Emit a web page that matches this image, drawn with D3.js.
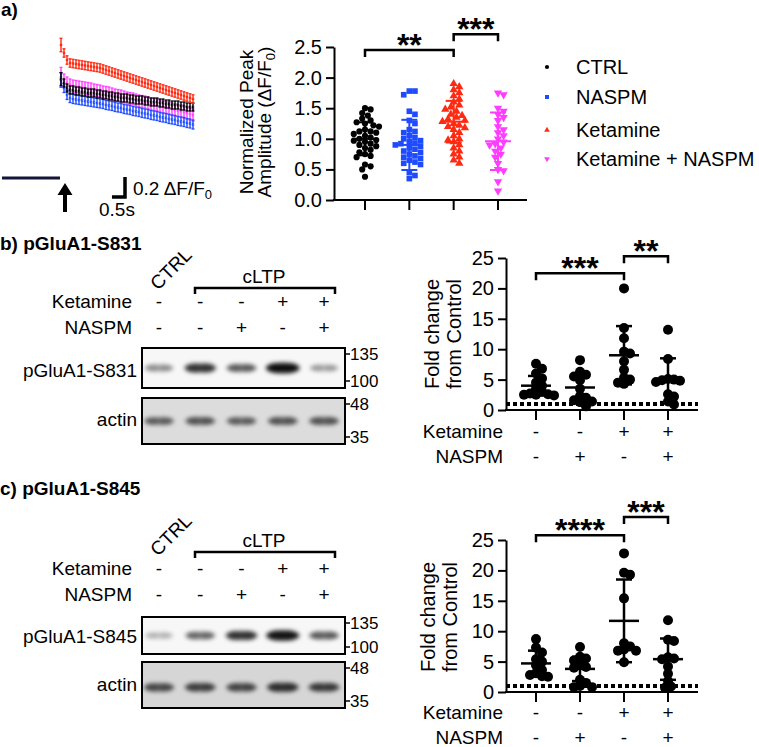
<!DOCTYPE html>
<html><head><meta charset="utf-8">
<script src="https://cdn.jsdelivr.net/npm/d3@7"></script>
<style>body{margin:0;background:#fff}</style>
</head><body><svg id="c" width="759" height="747"></svg>
<script>
// ================= DATA =================
// Panel a: Ca2+ traces (mean dF/F0 per frame), SEM per series
const frameInterval = 0.115; // s
const redTrace = [1.33,1.25,1.18,1.15,1.145,1.14,1.135,1.13,1.125,1.12,1.115,1.11,1.105,1.10,1.09,1.08,1.07,1.06,1.05,1.04,1.03,1.02,1.01,1.00,0.99,0.98,0.97,0.96,0.95,0.94,0.93,0.92,0.91,0.90,0.89,0.88,0.87,0.86,0.85,0.84,0.83,0.82,0.81,0.80,0.79];
const blackTrace = [0.99,0.95,0.90,0.88,0.88,0.87,0.87,0.86,0.86,0.85,0.85,0.85,0.84,0.84,0.83,0.83,0.82,0.82,0.81,0.81,0.80,0.80,0.80,0.79,0.79,0.78,0.78,0.78,0.77,0.77,0.76,0.76,0.76,0.75,0.75,0.74,0.74,0.73,0.73,0.73,0.72,0.72,0.71,0.71,0.71];
const magentaTrace = [1.01,0.98,0.95,0.93,0.92,0.915,0.91,0.905,0.90,0.895,0.89,0.88,0.875,0.87,0.86,0.855,0.85,0.84,0.83,0.825,0.82,0.81,0.80,0.795,0.79,0.78,0.77,0.765,0.76,0.75,0.74,0.735,0.73,0.72,0.71,0.705,0.70,0.69,0.68,0.675,0.67,0.66,0.65,0.64,0.63];
const blueTrace = [0.98,0.90,0.83,0.80,0.79,0.785,0.78,0.775,0.77,0.765,0.76,0.755,0.75,0.745,0.74,0.73,0.725,0.72,0.71,0.705,0.70,0.69,0.685,0.68,0.67,0.665,0.66,0.65,0.645,0.64,0.63,0.625,0.62,0.61,0.605,0.60,0.59,0.585,0.58,0.57,0.565,0.56,0.55,0.545,0.535];
const traceSEM = [0.042, 0.04, 0.06, 0.045]; // red, black, magenta, blue

// Panel a: normalized peak amplitude
const groupsA = ["CTRL","NASPM","Ketamine","Ketamine + NASPM"];
const ctrlAmp = [1.50,1.48,1.42,1.38,1.33,1.30,1.27,1.25,1.22,1.20,1.15,1.12,1.12,1.10,1.08,1.05,1.02,1.0,0.98,0.97,0.95,0.92,0.90,0.88,0.85,0.82,0.78,0.75,0.72,0.70,0.58,0.55,0.50,0.38];
const naspmAmp = [1.78,1.78,1.72,1.45,1.40,1.30,1.25,1.15,1.12,1.10,1.05,1.02,1.0,0.97,0.95,0.93,0.92,0.90,0.88,0.85,0.83,0.80,0.78,0.75,0.72,0.70,0.68,0.65,0.62,0.60,0.58,0.45,0.40,0.35];
const ketAmp = [1.90,1.85,1.80,1.75,1.70,1.65,1.60,1.55,1.52,1.48,1.45,1.40,1.38,1.35,1.32,1.30,1.28,1.25,1.22,1.20,1.18,1.15,1.10,1.05,1.0,0.98,0.95,0.90,0.85,0.80,0.75,0.70,0.65,0.60];
const ketNaspmAmp = [1.75,1.72,1.50,1.45,1.40,1.35,1.30,1.20,1.15,1.10,1.05,1.0,0.95,0.92,0.90,0.85,0.80,0.75,0.70,0.60,0.50,0.48,0.30,0.15];
const meanA = [1.0, 0.9, 1.28, 0.96];
const sdA = [0.27, 0.41, 0.34, 0.47];
const ticksA = [0,0.5,1.0,1.5,2.0,2.5];
const sigA = [{from:0,to:2,level:2.45,label:"**"},{from:2,to:3,level:2.71,label:"***"}];

// Panels b/c: blots
const laneKetamine = ["-","-","-","+","+"];
const laneNaspm = ["-","-","+","-","+"];
const s831Bands = [0.35,0.75,0.55,1.0,0.3];
const s831Actin = [0.5,0.55,0.5,0.55,0.55];
const s845Bands = [0.22,0.5,0.75,0.95,0.55];
const s845Actin = [0.6,0.65,0.62,0.75,0.68];
const mwTop = ["135","100"];
const mwActin = ["48","35"];

// Panels b/c: fold change from control
const foldKetamine = ["-","-","+","+"];
const foldNaspm = ["-","+","-","+"];
const s831Ctrl = [7.6,6.8,6.0,5.2,4.5,4.0,3.5,3.0,2.7,2.5,2.4,2.5,2.6];
const s831Naspm = [8.2,6.3,5.8,5.5,4.9,3.5,2.3,2.0,1.6,1.4,1.3,0.6];
const s831Ket = [20.0,13.5,11.8,9.6,9.3,8.0,6.6,5.3,5.0,4.5,4.3];
const s831KetNaspm = [13.2,8.4,5.1,5.0,4.9,4.8,4.6,2.6,2.2,1.4,0.9];
const s831Mean = [4.0,3.7,9.0,4.9];
const s831SD = [1.6,2.3,4.8,3.6];
const s845Ctrl = [8.7,7.3,6.5,5.4,5.0,4.4,3.6,3.1,2.8,2.6,2.5];
const s845Naspm = [7.4,5.8,5.5,5.2,4.8,4.1,4.0,2.0,1.5,1.0,0.8,0.8];
const s845Ket = [22.8,19.6,19.3,15.4,8.0,7.5,7.0,6.8,6.8,4.9];
const s845KetNaspm = [11.8,8.6,8.4,5.7,5.5,5.4,4.2,3.0,1.8,0.9,0.7];
const s845Mean = [4.7,3.8,11.7,5.4];
const s845SD = [2.1,2.0,6.8,3.4];
const ticksFold = [0,5,10,15,20,25];
const sigB = [{from:0,to:2,level:22.5,label:"***"},{from:2,to:3,level:25.3,label:"**"}];
const sigC = [{from:0,to:2,level:25.8,label:"****"},{from:2,to:3,level:28.8,label:"***"}];

// ================= DRAW =================
const F = '"Liberation Sans", Arial, Helvetica, sans-serif';
const svg = d3.select("#c").attr("font-family", F);
const colRed = "#ff2a12", colBlue = "#1f4bff", colMag = "#ff3cff";
const defs = svg.append("defs");
defs.append("filter").attr("id","blur").attr("x","-50%").attr("y","-100%").attr("width","200%").attr("height","300%")
  .append("feGaussianBlur").attr("stdDeviation", 2.2);

function txt(g, x, y, s, size, opts={}) {
  const t = g.append("text").attr("x", x).attr("y", y).attr("font-size", size).attr("fill","#000").text(s);
  if (opts.anchor) t.attr("text-anchor", opts.anchor);
  if (opts.bold) t.attr("font-weight", "bold");
  return t;
}

// ---------- Panel a: traces ----------
const gT = svg.append("g");
txt(gT, 1, 16, "a)", 19, {bold:true});
const tX = d3.scaleLinear().domain([0, (redTrace.length-1)*frameInterval]).range([61,193]);
const tY = d3.scaleLinear().domain([0,1]).range([178,78]);
const traceSeries = [
  {vals: magentaTrace, sem: traceSEM[2], color: colMag, dots:true},
  {vals: blueTrace, sem: traceSEM[3], color: colBlue, dots:true},
  {vals: blackTrace, sem: traceSEM[1], color: "#000", dots:true},
  {vals: redTrace, sem: traceSEM[0], color: colRed, dots:false}
];
traceSeries.forEach(s => {
  const g = gT.append("g");
  s.vals.forEach((v,i) => {
    const sem = i===0 ? s.sem*1.6 : s.sem;
    const x = tX(i*frameInterval), y1 = tY(v+sem), y2 = tY(v-sem);
    g.append("line").attr("x1",x).attr("x2",x).attr("y1",y1).attr("y2",y2).attr("stroke",s.color).attr("stroke-width",1.4);
    g.append("line").attr("x1",x-1.5).attr("x2",x+1.5).attr("y1",y1).attr("y2",y1).attr("stroke",s.color).attr("stroke-width",1.3);
    g.append("line").attr("x1",x-1.5).attr("x2",x+1.5).attr("y1",y2).attr("y2",y2).attr("stroke",s.color).attr("stroke-width",1.3);
    g.append("rect").attr("x",x-1.2).attr("y",tY(v)-1.2).attr("width",2.4).attr("height",2.4).attr("fill",s.color);
    if (s.dots) g.append("rect").attr("x",x+0.7).attr("y",tY(v)-0.6).attr("width",1.1).attr("height",1.2).attr("fill","#fff").attr("opacity",0.8);
  });
});
// baseline bar and stimulus arrow
gT.append("line").attr("x1",2).attr("x2",tX(0)-1).attr("y1",tY(0)).attr("y2",tY(0)).attr("stroke","#15153a").attr("stroke-width",3);
gT.append("path").attr("d","M65,183 L72.5,195 L67,195 L67,212 L63,212 L63,195 L57.5,195 Z").attr("fill","#000");
// scale bars
const sbX = 125, sbY = 197;
gT.append("path").attr("d",`M${sbX - (tX(0.5)-tX(0))},${sbY} H${sbX} V${sbY - (tY(0)-tY(0.2))}`)
  .attr("fill","none").attr("stroke","#000").attr("stroke-width",3.5);
const sbt = txt(gT, 133, 195, "0.2 ΔF/F", 19);
sbt.append("tspan").attr("font-size",13).attr("dy",4).text("0");
txt(gT, 99, 216, "0.5s", 19);

// ---------- generic helpers ----------
function swarm(vals, yS, minDist, step) {
  const idx = vals.map((v,i)=>i).sort((a,b)=>vals[b]-vals[a]);
  const placed = [], off = new Array(vals.length);
  idx.forEach(i => {
    const py = yS(vals[i]);
    for (let k=0; k<80; k++) {
      const dx = k===0 ? 0 : (k%2 ? 1 : -1)*Math.ceil(k/2)*step;
      if (placed.every(p => (p.x-dx)**2 + (p.y-py)**2 >= minDist*minDist) || k===79) {
        off[i] = dx; placed.push({x:dx, y:py}); break;
      }
    }
  });
  return off;
}
function styleAxis(a, fs) {
  a.selectAll("path,line").attr("stroke","#000").attr("stroke-width",2);
  a.selectAll("text").attr("font-size",fs).attr("font-family",F).attr("fill","#000");
}
function catAxes(g, x, y, xLeft, xRight, ticks, fmt) {
  const ya = g.append("g").attr("transform",`translate(${xLeft},0)`)
    .call(d3.axisLeft(y).tickValues(ticks).tickFormat(fmt).tickSize(8).tickSizeOuter(0).tickPadding(4));
  styleAxis(ya, 20);
  const y0 = y(0);
  g.append("line").attr("x1",xLeft-1).attr("x2",xRight).attr("y1",y0).attr("y2",y0).attr("stroke","#000").attr("stroke-width",2);
  x.domain().forEach(d => {
    g.append("line").attr("x1",x(d)).attr("x2",x(d)).attr("y1",y0).attr("y2",y0+10).attr("stroke","#000").attr("stroke-width",2);
  });
}
function brackets(g, x, y, sig, cats) {
  sig.forEach(s => {
    const x1 = x(cats[s.from]), x2 = x(cats[s.to]), yy = y(s.level);
    g.append("path").attr("d",`M${x1},${yy+7} V${yy} H${x2} V${yy+7}`).attr("fill","none").attr("stroke","#000").attr("stroke-width",2.5);
    txt(g, (x1+x2)/2, yy+6, s.label, 32, {anchor:"middle", bold:true});
  });
}
function meanSD(g, cx, m, sd, y, halfM, halfC, color, w) {
  g.append("line").attr("x1",cx).attr("x2",cx).attr("y1",y(m+sd)).attr("y2",y(Math.max(0,m-sd))).attr("stroke",color).attr("stroke-width",w);
  g.append("line").attr("x1",cx-halfM).attr("x2",cx+halfM).attr("y1",y(m)).attr("y2",y(m)).attr("stroke",color).attr("stroke-width",w);
  [m+sd, m-sd].forEach(v => g.append("line").attr("x1",cx-halfC).attr("x2",cx+halfC).attr("y1",y(v)).attr("y2",y(v)).attr("stroke",color).attr("stroke-width",w));
}
function rotLabel(g, cy, lines, fs) {
  lines.forEach(l => {
    const t = g.append("text").attr("transform",`translate(${l.x},${cy}) rotate(-90)`).attr("text-anchor","middle").attr("font-size",fs).attr("fill","#000");
    l.parts.forEach(p => {
      const ts = t.append("tspan").text(p.t);
      if (p.sub) ts.attr("font-size",13).attr("dy",4);
      if (p.back) ts.attr("dy",-4);
    });
  });
}

// ---------- Panel a: scatter ----------
const gA = svg.append("g");
const xA = d3.scalePoint().domain(groupsA).range([365,498]);
const yA = d3.scaleLinear().domain([0,2.5]).range([200,47]);
const ampSets = [ctrlAmp, naspmAmp, ketAmp, ketNaspmAmp];
const colorsA = ["#000", colBlue, colRed, colMag];
const symA = [
  {type:d3.symbolCircle, size:30, rot:0},
  {type:d3.symbolSquare, size:32, rot:0},
  {type:d3.symbolTriangle, size:30, rot:0},
  {type:d3.symbolTriangle, size:30, rot:180}
];
ampSets.forEach((vals, gi) => {
  const cx = xA(groupsA[gi]);
  const off = swarm(vals, yA, 5.5, 2.8);
  const path = d3.symbol().type(symA[gi].type).size(symA[gi].size)();
  vals.forEach((v,i) => {
    gA.append("path").attr("d",path).attr("fill",colorsA[gi])
      .attr("transform",`translate(${cx+off[i]},${yA(v)}) rotate(${symA[gi].rot})`);
  });
  meanSD(gA, cx, meanA[gi], sdA[gi], yA, 13, 8, colorsA[gi], 2);
});
catAxes(gA, xA, yA, 334, 527, ticksA, d3.format(".1f"));
brackets(gA, xA, yA, sigA, groupsA);
rotLabel(gA, 122, [
  {x:253, parts:[{t:"Normalized Peak"}]},
  {x:271, parts:[{t:"Amplitude (ΔF/F"},{t:"0",sub:true},{t:")",back:true}]}
], 19);
// legend
const legY = [67, 97, 130, 159];
groupsA.forEach((name, gi) => {
  const sz = gi===1 ? 16 : 14;
  const p = d3.symbol().type(symA[gi].type).size(sz)();
  gA.append("path").attr("d",p).attr("fill",colorsA[gi]).attr("transform",`translate(547,${legY[gi]}) rotate(${symA[gi].rot})`);
  txt(gA, 576, legY[gi]+7, name, 20);
});

// ---------- Blots ----------
const laneX = d3.scalePoint().domain(d3.range(5)).range([159,324]);
function blotPanel(cfg) {
  const g = svg.append("g");
  txt(g, 0, cfg.titleY, cfg.title, 19, {bold:true});
  g.append("text").attr("transform",`translate(158,${cfg.ctrlY}) rotate(-45)`).attr("font-size",19).text("CTRL");
  txt(g, 264, cfg.cltpY, "cLTP", 19, {anchor:"middle"});
  g.append("path").attr("d",`M195,${cfg.cltpY+11} V${cfg.cltpY+5} H335 V${cfg.cltpY+11}`).attr("fill","none").attr("stroke","#000").attr("stroke-width",2.5);
  txt(g, 132, cfg.ketY, "Ketamine", 19, {anchor:"end"});
  txt(g, 132, cfg.ketY+26, "NASPM", 19, {anchor:"end"});
  laneKetamine.forEach((s,i) => txt(g, laneX(i), cfg.ketY, s, 19, {anchor:"middle"}));
  laneNaspm.forEach((s,i) => txt(g, laneX(i), cfg.ketY+26, s, 19, {anchor:"middle"}));
  cfg.boxes.forEach((b, bi) => {
    const id = `clip${cfg.id}${bi}`;
    defs.append("clipPath").attr("id", id).append("rect").attr("x",142).attr("y",b.y0).attr("width",203).attr("height",b.y1-b.y0);
    g.append("rect").attr("x",142).attr("y",b.y0).attr("width",203).attr("height",b.y1-b.y0).attr("fill",b.bg);
    const bg = g.append("g").attr("clip-path",`url(#${id})`);
    const by = b.y0 + (b.y1-b.y0)*b.bandPos;
    b.bands.forEach((v,i) => {
      const cx = laneX(i);
      const bb = bg.append("g").attr("filter","url(#blur)");
      bb.append("ellipse").attr("cx",cx).attr("cy",by).attr("rx",13+4*v).attr("ry",2.6+3*v).attr("fill","#000").attr("opacity",Math.min(1,v*0.85));
      [-7,7].forEach(dx => bb.append("ellipse").attr("cx",cx+dx).attr("cy",by).attr("rx",6+2*v).attr("ry",2.5+2.6*v).attr("fill","#000").attr("opacity",Math.min(1,v*0.6)));
    });
    g.append("rect").attr("x",142).attr("y",b.y0).attr("width",203).attr("height",b.y1-b.y0).attr("fill","none").attr("stroke","#000").attr("stroke-width",2);
    txt(g, 137, b.labelY, b.label, 19, {anchor:"end"});
    [b.y0 + 6, b.y1 - 7].forEach((yy, k) => {
      g.append("line").attr("x1",344).attr("x2",350).attr("y1",yy).attr("y2",yy).attr("stroke","#000").attr("stroke-width",1.5);
      txt(g, 350, yy+6, b.mw[k], 17);
    });
  });
}
blotPanel({id:"b", title:"b) pGluA1-S831", titleY:250, ctrlY:291, cltpY:283, ketY:308,
  boxes:[
    {y0:348, y1:388, bg:"#f7f7f7", bands:s831Bands, bandPos:0.5, label:"pGluA1-S831", labelY:377, mw:mwTop},
    {y0:398, y1:444, bg:"#dcdcdc", bands:s831Actin, bandPos:0.5, label:"actin", labelY:426, mw:mwActin}
  ]});
blotPanel({id:"c", title:"c) pGluA1-S845", titleY:495, ctrlY:557, cltpY:547, ketY:575,
  boxes:[
    {y0:617, y1:654, bg:"#f7f7f7", bands:s845Bands, bandPos:0.5, label:"pGluA1-S845", labelY:643, mw:mwTop},
    {y0:662, y1:708, bg:"#d6d6d6", bands:s845Actin, bandPos:0.55, label:"actin", labelY:691, mw:mwActin}
  ]});

// ---------- Fold change panels ----------
const foldCats = ["g1","g2","g3","g4"];
function foldPanel(cfg) {
  const g = svg.append("g");
  const x = d3.scalePoint().domain(foldCats).range([536,668]);
  const y = d3.scaleLinear().domain([0,25]).range([cfg.y0, cfg.y0-152]);
  // dotted control line
  g.append("line").attr("x1",506).attr("x2",698).attr("y1",y(1)).attr("y2",y(1)).attr("stroke","#000").attr("stroke-width",4).attr("stroke-dasharray","4,3");
  cfg.sets.forEach((vals, gi) => {
    const cx = x(foldCats[gi]);
    const off = swarm(vals, y, 6, 3);
    vals.forEach((v,i) => g.append("circle").attr("cx",cx+off[i]).attr("cy",y(v)).attr("r",5).attr("fill","#000"));
    meanSD(g, cx, cfg.mean[gi], cfg.sd[gi], y, 15, 8, "#000", 2.5);
  });
  catAxes(g, x, y, 506, 698, ticksFold, d3.format("d"));
  brackets(g, x, y, cfg.sig, foldCats);
  rotLabel(g, cfg.labelCY, [
    {x:cfg.labelX, parts:[{t:"Fold change"}]},
    {x:cfg.labelX+22, parts:[{t:"from Control"}]}
  ], 20);
  txt(g, 503, cfg.ketY, "Ketamine", 19, {anchor:"end"});
  txt(g, 503, cfg.ketY+25, "NASPM", 19, {anchor:"end"});
  foldKetamine.forEach((s,i) => txt(g, x(foldCats[i]), cfg.ketY, s, 19, {anchor:"middle"}));
  foldNaspm.forEach((s,i) => txt(g, x(foldCats[i]), cfg.ketY+25, s, 19, {anchor:"middle"}));
}
foldPanel({y0:410, sets:[s831Ctrl,s831Naspm,s831Ket,s831KetNaspm], mean:s831Mean, sd:s831SD, sig:sigB, labelCY:334, labelX:439, ketY:438});
foldPanel({y0:692, sets:[s845Ctrl,s845Naspm,s845Ket,s845KetNaspm], mean:s845Mean, sd:s845SD, sig:sigC, labelCY:617, labelX:435, ketY:719});
</script></body></html>
